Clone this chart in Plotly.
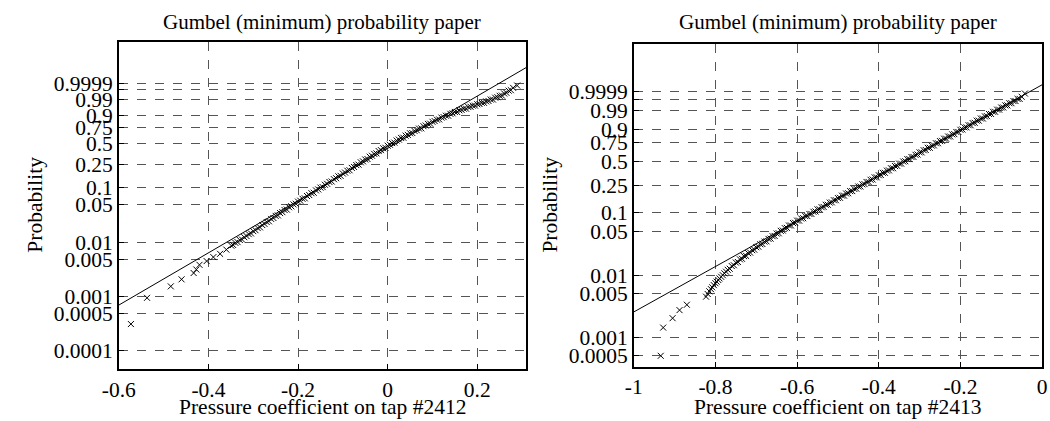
import numpy as np
import plotly.graph_objects as go

# ---------------- data ----------------
# Gumbel (minimum) paper: vertical coordinate is the reduced variate ln(-ln(1-p))
title_text = "Gumbel (minimum) probability paper"
ylabel_text = "Probability"
xlabel_left = "Pressure coefficient on tap #2412"
xlabel_right = "Pressure coefficient on tap #2413"

left_prob_ticks = [0.0001, 0.0005, 0.001, 0.005, 0.01, 0.05, 0.1, 0.25, 0.5, 0.75, 0.9, 0.99, 0.999, 0.9999]
left_prob_labels = ["0.0001", "0.0005", "0.001", "0.005", "0.01", "0.05", "0.1", "0.25", "0.5", "0.75", "0.9", "0.99", "", "0.9999"]
right_prob_ticks = [0.0005, 0.001, 0.005, 0.01, 0.05, 0.1, 0.25, 0.5, 0.75, 0.9, 0.99, 0.999, 0.9999]
right_prob_labels = ["0.0005", "0.001", "0.005", "0.01", "0.05", "0.1", "0.25", "0.5", "0.75", "0.9", "0.99", "", "0.9999"]

left_x_ticks = [-0.6, -0.4, -0.2, 0.0, 0.2]
left_x_labels = ["-0.6", "-0.4", "-0.2", "0", "0.2"]
right_x_ticks = [-1.0, -0.8, -0.6, -0.4, -0.2, 0.0]
right_x_labels = ["-1", "-0.8", "-0.6", "-0.4", "-0.2", "0"]

# sample points, tap #2412: pressure coefficient / reduced variate
left_cp = [-0.573, -0.537, -0.484, -0.460, -0.433, -0.427, -0.420, -0.404, -0.389, -0.374,
           -0.360, -0.349, -0.345, -0.340, -0.335, -0.330, -0.325, -0.320, -0.315, -0.310,
           -0.305, -0.300, -0.295, -0.290, -0.285, -0.280, -0.275, -0.270, -0.265, -0.260,
           -0.255, -0.250, -0.245, -0.240, -0.235, -0.230, -0.225, -0.220, -0.215, -0.210,
           -0.205, -0.200, -0.195, -0.190, -0.185, -0.180, -0.175, -0.170, -0.165, -0.160,
           -0.155, -0.150, -0.145, -0.140, -0.135, -0.130, -0.125, -0.120, -0.115, -0.110,
           -0.105, -0.100, -0.095, -0.090, -0.085, -0.080, -0.075, -0.070, -0.065, -0.060,
           -0.055, -0.050, -0.045, -0.040, -0.035, -0.030, -0.025, -0.020, -0.015, -0.010,
           -0.005, 0.000, 0.005, 0.010, 0.015, 0.020, 0.025, 0.030, 0.035, 0.040,
           0.045, 0.050, 0.055, 0.060, 0.065, 0.070, 0.075, 0.080, 0.085, 0.090,
           0.095, 0.100, 0.105, 0.110, 0.115, 0.120, 0.125, 0.130, 0.135, 0.140,
           0.145, 0.150, 0.155, 0.160, 0.165, 0.170, 0.175, 0.180, 0.185, 0.190,
           0.195, 0.200, 0.205, 0.210, 0.215, 0.220, 0.225, 0.230, 0.235, 0.240,
           0.245, 0.250, 0.255, 0.260, 0.265, 0.270, 0.275, 0.280, 0.289]
left_red = [-8.07, -6.95, -6.46, -6.16, -5.89, -5.74, -5.54, -5.38, -5.21, -5.07,
            -4.89, -4.72, -4.69, -4.60, -4.57, -4.48, -4.46, -4.36, -4.31, -4.23,
            -4.20, -4.10, -4.06, -3.97, -3.94, -3.84, -3.79, -3.71, -3.68, -3.58,
            -3.54, -3.45, -3.43, -3.33, -3.29, -3.20, -3.18, -3.08, -3.04, -2.96,
            -2.93, -2.84, -2.80, -2.72, -2.70, -2.60, -2.56, -2.48, -2.46, -2.36,
            -2.32, -2.24, -2.22, -2.12, -2.08, -2.00, -1.98, -1.88, -1.84, -1.76,
            -1.74, -1.64, -1.60, -1.52, -1.50, -1.40, -1.36, -1.28, -1.26, -1.16,
            -1.12, -1.04, -1.02, -0.92, -0.88, -0.80, -0.78, -0.68, -0.64, -0.56,
            -0.54, -0.45, -0.41, -0.34, -0.32, -0.23, -0.19, -0.12, -0.11, -0.02,
            0.01, 0.08, 0.09, 0.18, 0.21, 0.28, 0.29, 0.38, 0.41, 0.48,
            0.49, 0.57, 0.60, 0.66, 0.67, 0.75, 0.77, 0.83, 0.83, 0.91,
            0.93, 0.99, 0.99, 1.06, 1.08, 1.13, 1.13, 1.20, 1.21, 1.26,
            1.26, 1.32, 1.33, 1.38, 1.38, 1.44, 1.46, 1.52, 1.52, 1.60,
            1.62, 1.68, 1.69, 1.78, 1.81, 1.90, 1.92, 2.02, 2.12]

# sample points, tap #2413
right_cp = [-0.934, -0.928, -0.905, -0.888, -0.870, -0.823, -0.819, -0.815, -0.811, -0.808,
            -0.804, -0.800, -0.797, -0.793, -0.790, -0.786, -0.782, -0.778, -0.774, -0.770,
            -0.765, -0.760, -0.755, -0.750, -0.745, -0.740, -0.735, -0.730, -0.725, -0.720,
            -0.715, -0.710, -0.705, -0.700, -0.695, -0.690, -0.685, -0.680, -0.675, -0.670,
            -0.665, -0.660, -0.655, -0.650, -0.645, -0.640, -0.635, -0.630, -0.625, -0.620,
            -0.615, -0.610, -0.605, -0.600, -0.595, -0.590, -0.585, -0.580, -0.575, -0.570,
            -0.565, -0.560, -0.555, -0.550, -0.545, -0.540, -0.535, -0.530, -0.525, -0.520,
            -0.515, -0.510, -0.505, -0.500, -0.495, -0.490, -0.485, -0.480, -0.475, -0.470,
            -0.465, -0.460, -0.455, -0.450, -0.445, -0.440, -0.435, -0.430, -0.425, -0.420,
            -0.415, -0.410, -0.405, -0.400, -0.395, -0.390, -0.385, -0.380, -0.375, -0.370,
            -0.365, -0.360, -0.355, -0.350, -0.345, -0.340, -0.335, -0.330, -0.325, -0.320,
            -0.315, -0.310, -0.305, -0.300, -0.295, -0.290, -0.285, -0.280, -0.275, -0.270,
            -0.265, -0.260, -0.255, -0.250, -0.245, -0.240, -0.235, -0.230, -0.225, -0.220,
            -0.215, -0.210, -0.205, -0.200, -0.195, -0.190, -0.185, -0.180, -0.175, -0.170,
            -0.165, -0.160, -0.155, -0.150, -0.145, -0.140, -0.135, -0.130, -0.125, -0.120,
            -0.115, -0.110, -0.105, -0.100, -0.095, -0.090, -0.085, -0.080, -0.075, -0.070,
            -0.065, -0.060, -0.055, -0.050, -0.042]
right_red = [-7.60, -6.55, -6.20, -5.90, -5.70, -5.40, -5.30, -5.20, -5.12, -5.05,
             -4.97, -4.90, -4.84, -4.78, -4.72, -4.66, -4.60, -4.53, -4.47, -4.40,
             -4.36, -4.26, -4.23, -4.13, -4.11, -4.01, -3.99, -3.89, -3.88, -3.78,
             -3.76, -3.67, -3.65, -3.56, -3.54, -3.45, -3.44, -3.35, -3.34, -3.25,
             -3.24, -3.15, -3.14, -3.05, -3.04, -2.95, -2.94, -2.85, -2.84, -2.75,
             -2.75, -2.66, -2.65, -2.57, -2.57, -2.49, -2.48, -2.40, -2.40, -2.32,
             -2.32, -2.24, -2.23, -2.15, -2.15, -2.07, -2.06, -1.98, -1.98, -1.90,
             -1.89, -1.81, -1.81, -1.73, -1.72, -1.64, -1.64, -1.56, -1.55, -1.47,
             -1.47, -1.39, -1.38, -1.30, -1.30, -1.22, -1.21, -1.13, -1.13, -1.05,
             -1.04, -0.96, -0.96, -0.88, -0.87, -0.79, -0.79, -0.71, -0.70, -0.62,
             -0.62, -0.54, -0.53, -0.45, -0.45, -0.37, -0.36, -0.28, -0.28, -0.20,
             -0.20, -0.12, -0.11, -0.03, -0.03, 0.05, 0.06, 0.14, 0.14, 0.22,
             0.23, 0.31, 0.31, 0.39, 0.40, 0.48, 0.48, 0.56, 0.56, 0.64,
             0.65, 0.73, 0.73, 0.81, 0.82, 0.90, 0.90, 0.98, 0.98, 1.06,
             1.07, 1.15, 1.15, 1.23, 1.23, 1.31, 1.32, 1.40, 1.40, 1.48,
             1.48, 1.56, 1.56, 1.64, 1.64, 1.72, 1.72, 1.80, 1.80, 1.88,
             1.88, 1.96, 1.96, 2.04, 2.16]

# fitted Gumbel (minimum) parameters: location, scale
left_fit = (0.0505, 0.0896)
right_fit = (-0.294, 0.1183)

left_xrange = [-0.6, 0.309]
right_xrange = [-1.0, 0.0]
left_yrange = [-10.0, 4.0]
right_yrange = [-8.0, 4.0]

# ---------------- figure ----------------
W, H = 1050, 421
FONT = "Liberation Serif, Times New Roman, serif"


def red(p):
    p = np.asarray(p, dtype=float)
    return np.log(-np.log(1.0 - p))


def px_x(v):
    return v / W


def px_y(v):
    return 1 - v / H


fig = go.Figure()

for cp, rv, fit, xr, xa, ya in [
    (left_cp, left_red, left_fit, left_xrange, "x", "y"),
    (right_cp, right_red, right_fit, right_xrange, "x2", "y2"),
]:
    xs = np.linspace(xr[0], xr[1], 50)
    fig.add_trace(go.Scatter(x=xs, y=(xs - fit[0]) / fit[1], mode="lines",
                             line=dict(color="black", width=1), xaxis=xa, yaxis=ya,
                             showlegend=False, hoverinfo="skip", cliponaxis=True))
    fig.add_trace(go.Scatter(x=cp, y=rv, mode="markers",
                             marker=dict(symbol="x-thin", size=6, color="black",
                                         line=dict(color="black", width=1)),
                             xaxis=xa, yaxis=ya, showlegend=False))

axis_common = dict(showline=True, linecolor="black", linewidth=1.5, mirror=True,
                   ticks="inside", ticklen=5, tickcolor="black", tickwidth=1,
                   showgrid=True, gridcolor="#555555", gridwidth=1, griddash="dash",
                   zeroline=False, ticklabeloverflow="allow",
                   tickfont=dict(family=FONT, size=21.5, color="black"))

fig.update_layout(
    width=W, height=H, margin=dict(l=0, r=0, t=0, b=0),
    paper_bgcolor="white", plot_bgcolor="white",
    xaxis=dict(domain=[px_x(104), px_x(520)], range=left_xrange, anchor="y",
               tickmode="array", tickvals=left_x_ticks, ticktext=left_x_labels, **axis_common),
    yaxis=dict(domain=[px_y(371), px_y(41.7)], range=left_yrange, anchor="x",
               tickmode="array", tickvals=list(red(left_prob_ticks)), ticktext=left_prob_labels,
               **axis_common),
    xaxis2=dict(domain=[px_x(630), px_x(1047)], range=right_xrange, anchor="y2",
                tickmode="array", tickvals=right_x_ticks, ticktext=right_x_labels, **axis_common),
    yaxis2=dict(domain=[px_y(368.3), px_y(44.3)], range=right_yrange, anchor="x2",
                tickmode="array", tickvals=list(red(right_prob_ticks)), ticktext=right_prob_labels,
                **axis_common),
)

annotations = [
    dict(text=title_text, x=px_x(312), y=px_y(22), size=21),
    dict(text=title_text, x=px_x(838.5), y=px_y(22), size=21),
    dict(text=xlabel_left, x=px_x(312), y=px_y(409), size=21.5),
    dict(text=xlabel_right, x=px_x(838.5), y=px_y(409), size=21.5),
    dict(text=ylabel_text, x=px_x(18), y=px_y(206), size=21.5, textangle=-90),
    dict(text=ylabel_text, x=px_x(544), y=px_y(206), size=21.5, textangle=-90),
]
for a in annotations:
    size = a.pop("size")
    fig.add_annotation(xref="paper", yref="paper", showarrow=False, xanchor="center",
                       yanchor="middle", font=dict(family=FONT, size=size, color="black"), **a)

fig.write_html("out.html")
